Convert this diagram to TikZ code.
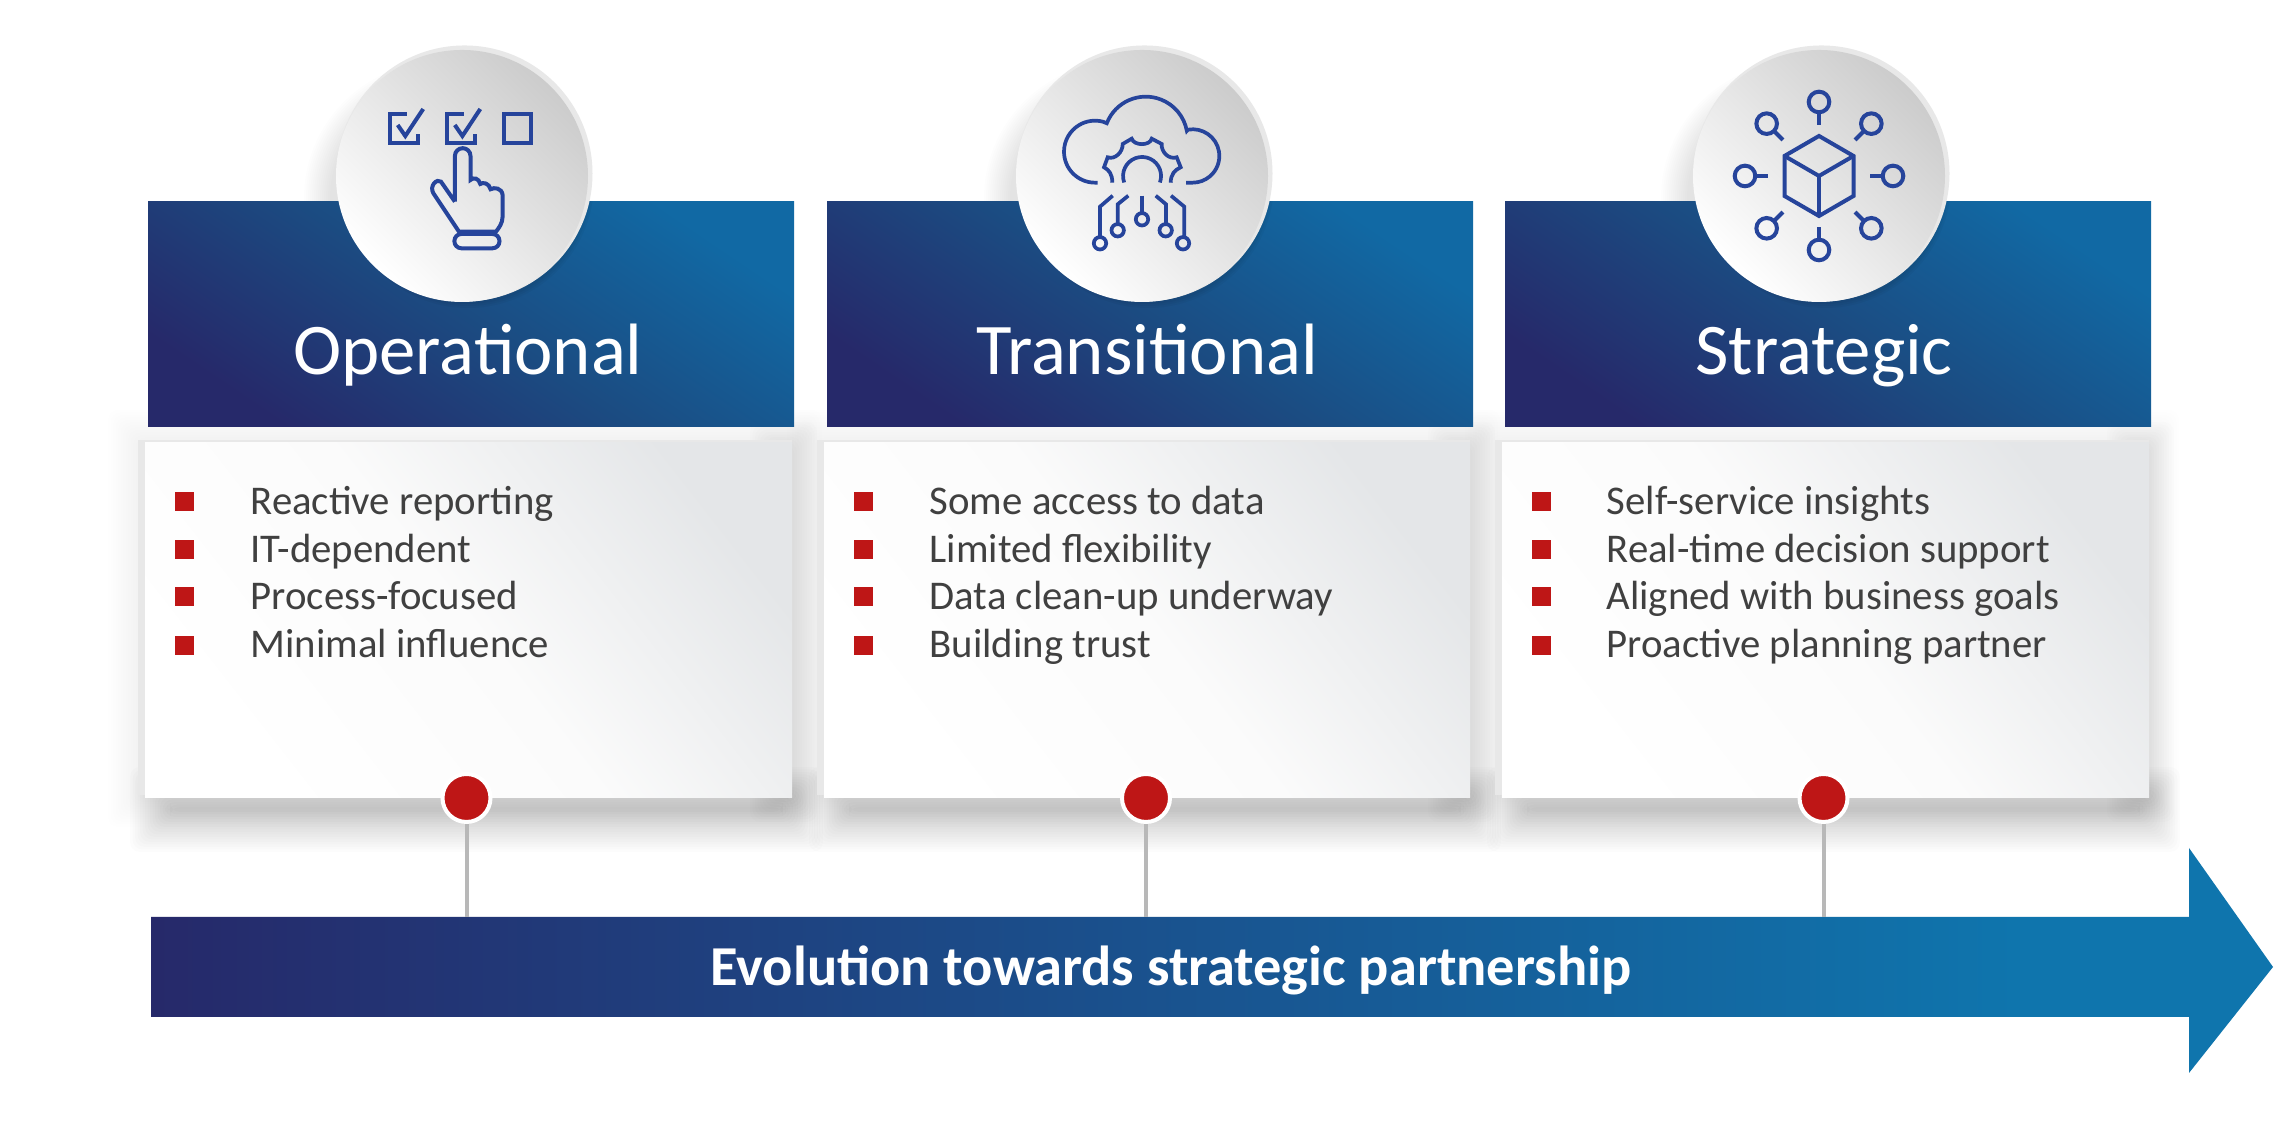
\documentclass[tikz,border=0pt]{standalone}
\usepackage{fontspec}
\setmainfont{Carlito}
\usetikzlibrary{calc}
\definecolor{navyend}{HTML}{26296A}
\definecolor{navymid}{HTML}{1B4C82}
\definecolor{blueend}{HTML}{0F75AD}
\definecolor{headtop}{HTML}{1169A4}
\definecolor{cardtop}{HTML}{E4E6E8}
\definecolor{cardmid}{HTML}{FBFBFB}
\definecolor{iconblue}{HTML}{26449B}
\definecolor{dotred}{HTML}{BE1616}
\definecolor{bodygray}{HTML}{404040}
\pgfdeclarehorizontalshading{arrowgrad}{100bp}{color(0bp)=(navyend); color(25bp)=(navyend); color(69bp)=(blueend); color(100bp)=(blueend)}
\tikzset{
	headbar/.style={bottom color=navyend, top color=headtop, middle color=navymid, shading angle=-34},
	cardface/.style={bottom color=white, top color=cardtop, middle color=cardmid, shading angle=-52},
	discface/.style={bottom color=white, top color=black!20, shading angle=-45},
	iconline/.style={line width=0.04cm, color=iconblue, line join=miter},
	titletext/.style={color=white, font=\fontsize{20.7}{25}\selectfont, anchor=base, inner sep=0},
	bullettext/.style={color=bodygray, font=\fontsize{11.6}{14}\selectfont, anchor=base west, inner sep=0},
	bulletbox/.style={fill=dotred, minimum size=0.19cm, inner sep=0},
	reddot/.style={circle, fill=dotred, draw=white, line width=0.04cm, minimum size=0.48cm, inner sep=0},
	tickline/.style={line width=0.04cm, color=black!28}
}
\def\softrect(#1,#2)(#3,#4)[#5,#6]{\foreach \s in {0,0.025,...,#5}{\fill[black, opacity=#6, rounded corners=0.1cm] (#1-\s, #2-\s) rectangle (#3+\s, #4+\s);}}
\def\softdisc(#1,#2){\foreach \r in {1.1,1.12,...,1.36}{\fill[black, opacity=0.009] (#1-0.22, #2-0.22) circle (\r);}}
\def\softcap(#1,#2){\foreach \r in {1.22,1.24,...,1.28}{\fill[black, opacity=0.03] (#1+0.06, #2-0.06) circle (\r);}}
\begin{document}
\begin{tikzpicture}
	\useasboundingbox (0, 0) rectangle (22.94, 11.27);
	\fill[white] (0, 0) rectangle (22.94, 11.27);
	%%%%% SHADOWS %%%%%
	\softrect(1.38,3.3)(7.92,6.87)[0.3,0.003]
	\softrect(8.17,3.3)(14.7,6.87)[0.3,0.003]
	\softrect(14.95,3.3)(21.49,6.87)[0.3,0.003]
	\softrect(7.75,3.3)(7.92,6.8)[0.25,0.009]
	\softrect(14.53,3.3)(14.7,6.8)[0.25,0.009]
	\softrect(21.32,3.3)(21.49,6.8)[0.25,0.009]
	\softrect(1.7,3.15)(7.83,3.2)[0.4,0.0105]
	\softrect(8.49,3.15)(14.61,3.2)[0.4,0.0105]
	\softrect(15.27,3.15)(21.4,3.2)[0.4,0.0105]
	\softdisc(4.62,9.51)
	\softdisc(11.42,9.51)
	\softdisc(18.19,9.51)

	%%%%% HEADERS %%%%%
	\shade[headbar] (1.48, 7) rectangle (7.94, 9.25);
	\shade[headbar] (8.27, 7) rectangle (14.73, 9.25);
	\shade[headbar] (15.05, 7) rectangle (21.51, 9.25);
	\begin{scope}
		\clip (1.48, 7) rectangle (7.94, 9.25);
		\softcap(4.62,9.51)
	\end{scope}
	\begin{scope}
		\clip (8.27, 7) rectangle (14.73, 9.25);
		\softcap(11.42,9.51)
	\end{scope}
	\begin{scope}
		\clip (15.05, 7) rectangle (21.51, 9.25);
		\softcap(18.19,9.51)
	\end{scope}
	\node[titletext] (opTitle) at (4.68, 7.52) {Operational};
	\node[titletext] (trTitle) at (11.47, 7.52) {Transitional};
	\node[titletext] (stTitle) at (18.24, 7.52) {Strategic};

	%%%%% CARDS %%%%%
	\fill[black!9] (1.38, 3.32) rectangle (7.92, 6.87);
	\fill[black!9] (8.17, 3.32) rectangle (14.7, 6.87);
	\fill[black!9] (14.95, 3.32) rectangle (21.49, 6.87);
	\shade[cardface] (1.45, 3.29) rectangle (7.92, 6.84);
	\shade[cardface] (8.24, 3.29) rectangle (14.7, 6.84);
	\shade[cardface] (15.02, 3.29) rectangle (21.49, 6.84);

	%%%%% DISCS %%%%%
	\fill[black!9] (4.645, 9.535) circle (1.28);
	\fill[black!9] (11.445, 9.535) circle (1.28);
	\fill[black!9] (18.215, 9.535) circle (1.28);
	\shade[discface] (4.62, 9.51) circle (1.26);
	\shade[discface] (11.42, 9.51) circle (1.26);
	\shade[discface] (18.19, 9.51) circle (1.26);

	%%%%% ARROW %%%%%
	\shade[shading=arrowgrad] (1.51, 2.1) -- (21.89, 2.1) -- (21.89, 2.79) -- (22.73, 1.6) -- (21.89, 0.54) -- (21.89, 1.1) -- (1.51, 1.1) -- cycle;
	\node[color=white, font=\bfseries\fontsize{16.05}{20}\selectfont, anchor=base, inner sep=0] (arrowText) at (11.71, 1.41) {Evolution towards strategic partnership};

	%%%%% TICKS %%%%%
	\node[reddot] (dotA) at (4.665, 3.29) {};
	\node[reddot] (dotB) at (11.46, 3.29) {};
	\node[reddot] (dotC) at (18.235, 3.29) {};
	\coordinate (tickA) at (4.665, 2.1);
	\coordinate (tickB) at (11.46, 2.1);
	\coordinate (tickC) at (18.235, 2.1);
	\draw[tickline] (dotA) -- (tickA);
	\draw[tickline] (dotB) -- (tickB);
	\draw[tickline] (dotC) -- (tickC);

	%%%%% FIRST LIST %%%%%
	\node[bulletbox] (bulA1) at (1.84, 6.25) {};
	\node[bulletbox] (bulA2) at (1.84, 5.77) {};
	\node[bulletbox] (bulA3) at (1.84, 5.3) {};
	\node[bulletbox] (bulA4) at (1.84, 4.81) {};
	\node[bullettext] (txtA1) at (2.5, 6.12) {Reactive reporting};
	\node[bullettext] (txtA2) at (2.5, 5.64) {IT-dependent};
	\node[bullettext] (txtA3) at (2.5, 5.17) {Process-focused};
	\node[bullettext] (txtA4) at (2.5, 4.69) {Minimal influence};

	%%%%% SECOND LIST %%%%%
	\node[bulletbox] (bulB1) at (8.63, 6.25) {};
	\node[bulletbox] (bulB2) at (8.63, 5.77) {};
	\node[bulletbox] (bulB3) at (8.63, 5.3) {};
	\node[bulletbox] (bulB4) at (8.63, 4.81) {};
	\node[bullettext] (txtB1) at (9.29, 6.12) {Some access to data};
	\node[bullettext] (txtB2) at (9.29, 5.64) {Limited flexibility};
	\node[bullettext] (txtB3) at (9.29, 5.17) {Data clean-up underway};
	\node[bullettext] (txtB4) at (9.29, 4.69) {Building trust};

	%%%%% THIRD LIST %%%%%
	\node[bulletbox] (bulC1) at (15.41, 6.25) {};
	\node[bulletbox] (bulC2) at (15.41, 5.77) {};
	\node[bulletbox] (bulC3) at (15.41, 5.3) {};
	\node[bulletbox] (bulC4) at (15.41, 4.81) {};
	\node[bullettext] (txtC1) at (16.06, 6.12) {Self-service insights};
	\node[bullettext] (txtC2) at (16.06, 5.64) {Real-time decision support};
	\node[bullettext] (txtC3) at (16.06, 5.17) {Aligned with business goals};
	\node[bullettext] (txtC4) at (16.06, 4.69) {Proactive planning partner};

	%%%%% HAND ICON %%%%%
	\begin{scope}[shift={(4.62, 9.51)}, iconline]
		\draw (-0.554, 0.617) -- (-0.719, 0.617) -- (-0.719, 0.333) -- (-0.442, 0.333) -- (-0.442, 0.42);
		\draw (-0.643, 0.51) -- (-0.567, 0.4) -- (-0.388, 0.67);
		\draw (0.017, 0.617) -- (-0.148, 0.617) -- (-0.148, 0.333) -- (0.129, 0.333) -- (0.129, 0.42);
		\draw (-0.072, 0.51) -- (0.004, 0.4) -- (0.183, 0.67);
		\draw (0.42, 0.617) rectangle (0.688, 0.333);
		\draw (-0.071, -0.257) -- (-0.071, 0.2) arc[start angle=180, end angle=0, radius=0.078] -- (0.085, -0.04) .. controls (0.11, -0.01) and (0.17, -0.02) .. (0.183, -0.08) .. controls (0.21, -0.06) and (0.27, -0.07) .. (0.286, -0.133) .. controls (0.32, -0.11) and (0.4, -0.12) .. (0.406, -0.19) -- (0.406, -0.407) .. controls (0.406, -0.47) and (0.37, -0.52) .. (0.339, -0.557) -- (-0.03, -0.557) -- (-0.286, -0.173) .. controls (-0.33, -0.1) and (-0.25, -0.02) .. (-0.21, -0.057) -- (-0.071, -0.257);
		\draw[rounded corners=0.07cm] (-0.076, -0.58) rectangle (0.375, -0.723);
	\end{scope}

	%%%%% CLOUD ICON %%%%%
	\begin{scope}[shift={(11.42, 9.51)}, iconline, line width=0.037cm]
		\draw (-0.443, -0.067) -- (-0.47, -0.067) arc[start angle=270, end angle=75, radius=0.31] -- (-0.352, 0.527) arc[start angle=158.7, end angle=10.4, radius=0.418] -- (0.46, 0.463) arc[start angle=100, end angle=-90, radius=0.267] -- (0.44, -0.067);
		\draw (-0.178, -0.065) arc[start angle=200, end angle=-20, radius=0.19];
		\draw (-0.297, -0.067) .. controls (-0.297, 0.02) and (-0.33, 0.06) .. (-0.38, 0.087) -- (-0.343, 0.187) .. controls (-0.27, 0.16) and (-0.19, 0.24) .. (-0.193, 0.32) -- (-0.103, 0.373) .. controls (-0.08, 0.3) and (0.08, 0.3) .. (0.097, 0.373) -- (0.197, 0.32) .. controls (0.19, 0.24) and (0.27, 0.16) .. (0.347, 0.187) -- (0.387, 0.087) .. controls (0.33, 0.06) and (0.287, 0.02) .. (0.287, -0.067);
		\draw (0, -0.197) -- (0, -0.367);
		\draw (0, -0.433) circle (0.062);
		\draw (-0.137, -0.197) -- (-0.243, -0.283) -- (-0.243, -0.48);
		\draw (-0.243, -0.543) circle (0.062);
		\draw (-0.293, -0.197) -- (-0.42, -0.307) -- (-0.42, -0.61);
		\draw (-0.42, -0.673) circle (0.062);
		\draw (0.137, -0.197) -- (0.24, -0.283) -- (0.24, -0.48);
		\draw (0.237, -0.543) circle (0.062);
		\draw (0.29, -0.197) -- (0.423, -0.307) -- (0.423, -0.61);
		\draw (0.41, -0.673) circle (0.062);
	\end{scope}

	%%%%% CUBE ICON %%%%%
	\begin{scope}[shift={(18.19, 9.51)}, iconline]
		\draw (0, 0.4) -- (0.345, 0.2) -- (0.345, -0.2) -- (0, -0.4) -- (-0.345, -0.2) -- (-0.345, 0.2) -- cycle;
		\draw (-0.345, 0.2) -- (0, 0) -- (0.345, 0.2);
		\draw (0, 0) -- (0, -0.4);
		\foreach \a in {0,45,...,315}{
			\draw (\a:0.74) circle (0.103);
			\draw (\a:0.63) -- (\a:0.51);
		}
	\end{scope}
\end{tikzpicture}
\end{document}
